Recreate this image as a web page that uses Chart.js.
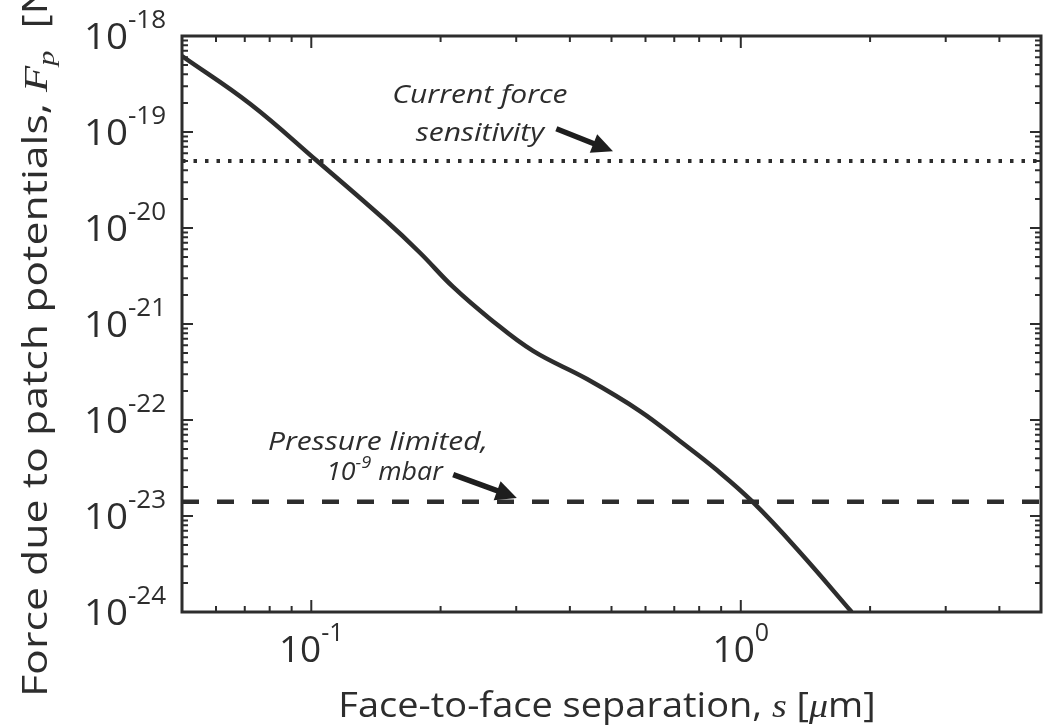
<!DOCTYPE html>
<html>
<head>
<meta charset="utf-8">
<title>Patch potential force</title>
<script src="https://cdn.jsdelivr.net/npm/chart.js@4.4.1/dist/chart.umd.min.js"></script>
<style>
  html, body { margin: 0; padding: 0; background: #fff; }
  #wrap { width: 1050px; height: 725px; }
</style>
</head>
<body>
<div id="wrap"><canvas id="chart" width="1050" height="725"></canvas></div>
<script>
// separation s [um] and the patch-potential force F_p [N]
const separation = [0.05, 0.0721, 0.1032, 0.1486, 0.1793, 0.2139, 0.2608, 0.3283,
                    0.4384, 0.5821, 0.7213, 0.8794, 1.066, 1.371, 1.812];
const patchForce = [6.19e-19, 1.96e-19, 4.99e-20, 1.21e-20, 5.49e-21, 2.43e-21, 1.13e-21, 5.24e-22,
                    2.67e-22, 1.24e-22, 6.04e-23, 3.01e-23, 1.40e-23, 4.22e-24, 1.0e-24];

// horizontal reference levels
const sensitivityLevel = 5e-20;
const pressureLevel = 1.41e-23;

const xRange = [0.05, 5];
const yRange = [1e-24, 1e-18];
const xTickExps = [-1, 0];
const yTickExps = [-18, -19, -20, -21, -22, -23, -24];

// annotation text and arrows, anchored in data units
const notes = [
  { lines: ['Current force', 'sensitivity'], x: [0.247, 0.247], y: [2.0e-19, 8.0e-20] },
  { lines: ['Pressure limited,', null], x: [0.143, 0.148], y: [4.87e-23, 2.37e-23] }
];
const arrows = [
  { from: [0.372, 1.08e-19], to: [0.504, 6.3e-20] },
  { from: [0.214, 2.7e-23], to: [0.301, 1.54e-23] }
];

const ink = '#2d2d2d';
const SANS = '"Open Sans", "DejaVu Sans", sans-serif';
const MATH = '"Liberation Serif", "DejaVu Serif", serif';

// text runs: { t, font, dy }, laid out left to right and stretched by sx
function runsWidth(ctx, runs, sx = 1) {
  let w = 0;
  runs.forEach(r => { ctx.font = r.font; w += ctx.measureText(r.t).width; });
  return w * sx;
}
function drawRuns(ctx, runs, x, y, sx = 1) {
  ctx.save();
  ctx.translate(x, y);
  ctx.scale(sx, 1);
  let cx = 0;
  runs.forEach(r => {
    ctx.font = r.font;
    ctx.fillText(r.t, cx, r.dy || 0);
    cx += ctx.measureText(r.t).width;
  });
  ctx.restore();
}
function powerRuns(exp) {
  return [
    { t: '10', font: '37px ' + SANS },
    { t: exp === 0 ? '0' : '-' + Math.abs(exp), font: '25px ' + SANS, dy: -21 }
  ];
}

function minorValues(min, max) {
  const out = [];
  for (let e = Math.floor(Math.log10(min)); e <= Math.ceil(Math.log10(max)); e++) {
    for (let m = 2; m <= 9; m++) {
      const v = m * Math.pow(10, e);
      if (v >= min * 0.999 && v <= max * 1.001) out.push(v);
    }
  }
  return out;
}

const framePlugin = {
  id: 'frame',
  afterDatasetsDraw(chart) {
    const { ctx, chartArea: a, scales: { x, y } } = chart;
    ctx.save();
    ctx.strokeStyle = ink;
    ctx.fillStyle = ink;

    // inward ticks on all four sides
    ctx.lineWidth = 2;
    ctx.beginPath();
    yTickExps.map(e => Math.pow(10, e)).forEach(v => {
      const py = y.getPixelForValue(v);
      ctx.moveTo(a.left, py); ctx.lineTo(a.left + 11, py);
      ctx.moveTo(a.right, py); ctx.lineTo(a.right - 11, py);
    });
    minorValues(yRange[0], yRange[1]).forEach(v => {
      const py = y.getPixelForValue(v);
      ctx.moveTo(a.left, py); ctx.lineTo(a.left + 6, py);
      ctx.moveTo(a.right, py); ctx.lineTo(a.right - 6, py);
    });
    xTickExps.map(e => Math.pow(10, e)).forEach(v => {
      const px = x.getPixelForValue(v);
      ctx.moveTo(px, a.bottom); ctx.lineTo(px, a.bottom - 12);
      ctx.moveTo(px, a.top); ctx.lineTo(px, a.top + 12);
    });
    minorValues(xRange[0], xRange[1]).forEach(v => {
      const px = x.getPixelForValue(v);
      ctx.moveTo(px, a.bottom); ctx.lineTo(px, a.bottom - 6);
      ctx.moveTo(px, a.top); ctx.lineTo(px, a.top + 6);
    });
    ctx.stroke();

    // axes box
    ctx.lineWidth = 3;
    ctx.strokeRect(a.left, a.top, a.right - a.left, a.bottom - a.top);

    // tick labels
    ctx.textBaseline = 'alphabetic';
    ctx.textAlign = 'left';
    yTickExps.forEach(e => {
      const runs = powerRuns(e);
      const py = y.getPixelForValue(Math.pow(10, e));
      drawRuns(ctx, runs, 166 - runsWidth(ctx, runs, 1.04), py + 13, 1.04);
    });
    xTickExps.forEach(e => {
      const runs = powerRuns(e);
      const px = x.getPixelForValue(Math.pow(10, e));
      drawRuns(ctx, runs, px - runsWidth(ctx, runs) / 2, 662);
    });

    // axis titles
    const xTitle = [
      { t: 'Face-to-face separation, ', font: '34px ' + SANS },
      { t: 's', font: 'italic 34px ' + MATH },
      { t: ' [', font: '34px ' + SANS },
      { t: '\u03bc', font: 'italic 34px ' + MATH },
      { t: 'm]', font: '34px ' + SANS }
    ];
    drawRuns(ctx, xTitle, 607 - runsWidth(ctx, xTitle, 1.117) / 2, 717, 1.117);

    const yTitle = [
      { t: 'Force due to patch potentials, ', font: '34px ' + SANS },
      { t: 'F', font: 'italic 34px ' + MATH },
      { t: 'p', font: 'italic 24px ' + MATH, dy: 7 },
      { t: '  [N]', font: '34px ' + SANS }
    ];
    ctx.save();
    ctx.translate(47, 697);
    ctx.rotate(-Math.PI / 2);
    drawRuns(ctx, yTitle, 0, 0, 1.26);
    ctx.restore();

    // annotations
    notes.forEach(n => {
      n.lines.forEach((line, j) => {
        const cx = x.getPixelForValue(n.x[j]);
        const by = y.getPixelForValue(n.y[j]);
        const runs = line === null ? [
          { t: '10', font: 'italic 25px ' + SANS },
          { t: '-9', font: 'italic 17px ' + SANS, dy: -12 },
          { t: ' mbar', font: 'italic 25px ' + SANS }
        ] : [{ t: line, font: 'italic 25px ' + SANS }];
        const sx = line === null ? 1.07 : 1.2;
        drawRuns(ctx, runs, cx - runsWidth(ctx, runs, sx) / 2, by, sx);
      });
    });

    arrows.forEach(ar => {
      const x0 = x.getPixelForValue(ar.from[0]), y0 = y.getPixelForValue(ar.from[1]);
      const x1 = x.getPixelForValue(ar.to[0]), y1 = y.getPixelForValue(ar.to[1]);
      const ang = Math.atan2(y1 - y0, x1 - x0);
      const head = 21, half = 10;
      const bx = x1 - head * Math.cos(ang), by = y1 - head * Math.sin(ang);
      ctx.lineWidth = 5.5;
      ctx.strokeStyle = '#1e1e1e';
      ctx.fillStyle = '#1e1e1e';
      ctx.beginPath();
      ctx.moveTo(x0, y0); ctx.lineTo(bx + 2 * Math.cos(ang), by + 2 * Math.sin(ang));
      ctx.stroke();
      ctx.beginPath();
      ctx.moveTo(x1, y1);
      ctx.lineTo(bx + half * Math.sin(ang), by - half * Math.cos(ang));
      ctx.lineTo(bx - half * Math.sin(ang), by + half * Math.cos(ang));
      ctx.closePath();
      ctx.fill();
    });

    ctx.restore();
  }
};

new Chart(document.getElementById('chart'), {
  type: 'line',
  data: {
    datasets: [
      {
        label: 'Patch force',
        data: separation.map((s, i) => ({ x: s, y: patchForce[i] })),
        borderColor: ink,
        borderWidth: 4.5,
        pointRadius: 0,
        tension: 0.4
      },
      {
        label: 'Current force sensitivity',
        data: xRange.map(s => ({ x: s, y: sensitivityLevel })),
        borderColor: ink,
        borderWidth: 4,
        borderDash: [3.5, 8],
        pointRadius: 0
      },
      {
        label: 'Pressure limited',
        data: xRange.map(s => ({ x: s, y: pressureLevel })),
        borderColor: ink,
        borderWidth: 4.5,
        borderDash: [17, 18],
        pointRadius: 0
      }
    ]
  },
  options: {
    responsive: false,
    animation: false,
    layout: { padding: { left: 182, right: 9, top: 36, bottom: 113 } },
    plugins: { legend: { display: false }, tooltip: { enabled: false } },
    scales: {
      x: { type: 'logarithmic', min: xRange[0], max: xRange[1], display: false },
      y: { type: 'logarithmic', min: yRange[0], max: yRange[1], display: false }
    }
  },
  plugins: [framePlugin]
});
</script>
</body>
</html>
